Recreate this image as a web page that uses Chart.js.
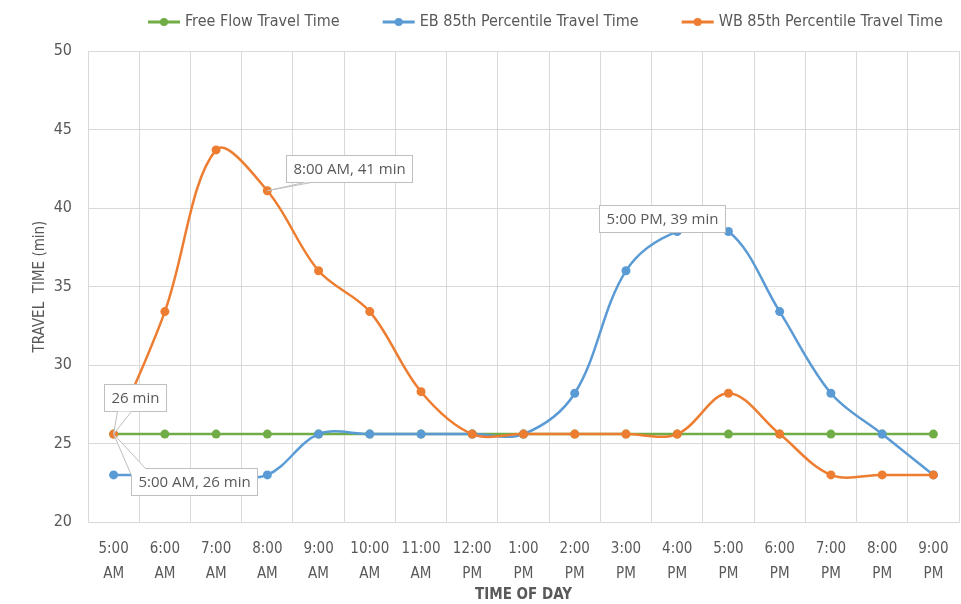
<!DOCTYPE html>
<html>
<head>
<meta charset="utf-8">
<script src="https://cdn.jsdelivr.net/npm/chart.js@4.4.1/dist/chart.umd.min.js"></script>
<style>
html, body { margin: 0; padding: 0; background: #fff; }
</style>
</head>
<body>
<canvas id="chart" width="961" height="604"></canvas>
<script>
'use strict';

const timeLabels = ['5:00 AM', '6:00 AM', '7:00 AM', '8:00 AM', '9:00 AM', '10:00 AM', '11:00 AM', '12:00 PM',
	'1:00 PM', '2:00 PM', '3:00 PM', '4:00 PM', '5:00 PM', '6:00 PM', '7:00 PM', '8:00 PM', '9:00 PM'];

const freeFlow = [25.6, 25.6, 25.6, 25.6, 25.6, 25.6, 25.6, 25.6, 25.6, 25.6, 25.6, 25.6, 25.6, 25.6, 25.6, 25.6, 25.6];
const ebTravel = [23.0, 23.0, 23.0, 23.0, 25.6, 25.6, 25.6, 25.6, 25.6, 28.2, 36.0, 38.5, 38.5, 33.4, 28.2, 25.6, 23.0];
const wbTravel = [25.6, 33.4, 43.7, 41.1, 36.0, 33.4, 28.3, 25.6, 25.6, 25.6, 25.6, 25.6, 28.2, 25.6, 23.0, 23.0, 23.0];

const yMin = 20;
const yMax = 50;
const yStep = 5;

// data callouts (dataset index, point index, text)
const callouts = [
	{ dataset: 2, index: 0, text: '26 min' },
	{ dataset: 2, index: 0, text: '5:00 AM, 26 min' },
	{ dataset: 2, index: 3, text: '8:00 AM, 41 min' },
	{ dataset: 1, index: 12, text: '5:00 PM, 39 min' }
];

// where each callout box sits relative to its point, and its leader anchors (box-relative)
const calloutStyle = [
	{ dx: 21, dy: -37, leader: [['b', 13], ['b', 27]] },
	{ dx: 80, dy: 47, leader: [['l', 7], ['t', 14]] },
	{ dx: 82, dy: -22, leader: [['b', 18], ['b', 25]] },
	{ dx: -66, dy: -13, leader: null }
];

const gray = '#595959';
const gridColor = '#d9d9d9';
const narrow = "'Liberation Sans Narrow', 'DejaVu Sans Condensed', sans-serif";
const labelFont = "15px 'Open Sans', sans-serif";

const lineLegend = {
	id: 'lineLegend',
	afterDraw(chart) {
		const ctx = chart.ctx;
		ctx.save();
		ctx.font = '16px ' + narrow;
		ctx.textBaseline = 'middle';
		ctx.textAlign = 'left';
		let x = 148;
		const y = 22;
		chart.data.datasets.forEach(function (ds) {
			ctx.strokeStyle = ds.borderColor;
			ctx.lineWidth = 3;
			ctx.beginPath();
			ctx.moveTo(x, y);
			ctx.lineTo(x + 32, y);
			ctx.stroke();
			ctx.fillStyle = ds.borderColor;
			ctx.beginPath();
			ctx.arc(x + 16, y, 4, 0, Math.PI * 2);
			ctx.fill();
			ctx.fillStyle = gray;
			ctx.fillText(ds.label, x + 37, y);
			x += 37 + ctx.measureText(ds.label).width + 43;
		});
		ctx.restore();
	}
};

function anchorPoint(a, bx, by, w, h) {
	if (a[0] === 'b') return [bx + a[1], by + h];
	if (a[0] === 't') return [bx + a[1], by];
	if (a[0] === 'l') return [bx, by + a[1]];
	return [bx + w, by + a[1]];
}

const calloutPlugin = {
	id: 'callouts',
	afterDatasetsDraw(chart) {
		const ctx = chart.ctx;
		ctx.save();
		ctx.font = labelFont;
		callouts.forEach(function (c, i) {
			const st = calloutStyle[i];
			const pt = chart.getDatasetMeta(c.dataset).data[c.index];
			const w = Math.round(ctx.measureText(c.text).width + 14);
			const h = 27;
			const cx = pt.x + st.dx;
			const cy = pt.y + st.dy;
			const bx = Math.round(cx - w / 2) + 0.5;
			const by = Math.round(cy - h / 2) + 0.5;

			ctx.fillStyle = '#fff';
			ctx.fillRect(bx, by, w, h);
			ctx.strokeStyle = '#bfbfbf';
			ctx.lineWidth = 1;
			ctx.strokeRect(bx, by, w, h);

			if (st.leader) {
				const a1 = anchorPoint(st.leader[0], bx, by, w, h);
				const a2 = anchorPoint(st.leader[1], bx, by, w, h);
				ctx.fillStyle = '#fff';
				ctx.beginPath();
				ctx.moveTo(pt.x, pt.y);
				ctx.lineTo(a1[0], a1[1]);
				ctx.lineTo(a2[0], a2[1]);
				ctx.closePath();
				ctx.fill();
				ctx.beginPath();
				ctx.moveTo(a1[0], a1[1]);
				ctx.lineTo(pt.x, pt.y);
				ctx.lineTo(a2[0], a2[1]);
				ctx.stroke();
			}

			ctx.fillStyle = gray;
			ctx.textAlign = 'center';
			ctx.textBaseline = 'middle';
			ctx.fillText(c.text, bx + w / 2, by + h / 2 + 1);
		});
		ctx.restore();
	}
};

function series(label, data, color, tension, order) {
	return {
		label: label,
		data: data,
		borderColor: color,
		backgroundColor: color,
		borderWidth: 2.5,
		pointRadius: 4.5,
		pointBorderWidth: 0,
		pointBackgroundColor: color,
		tension: tension,
		order: order,
		fill: false
	};
}

const chart = new Chart(document.getElementById('chart'), {
	type: 'line',
	data: {
		labels: timeLabels,
		datasets: [
			series('Free Flow Travel Time', freeFlow, '#70ad47', 0, 3),
			series('EB 85th Percentile Travel Time', ebTravel, '#5b9bd5', 0.35, 2),
			series('WB 85th Percentile Travel Time', wbTravel, '#ed7d31', 0.35, 1)
		]
	},
	options: {
		responsive: false,
		animation: false,
		devicePixelRatio: 1,
		layout: {
			autoPadding: false,
			padding: { top: 51, left: 0, right: 2, bottom: 0 }
		},
		plugins: {
			legend: { display: false },
			tooltip: { enabled: false }
		},
		scales: {
			x: {
				type: 'category',
				offset: true,
				grid: { offset: true, color: gridColor, drawTicks: false },
				border: { color: gridColor },
				ticks: {
					color: gray,
					font: { family: narrow, size: 15, lineHeight: 1.65 },
					padding: 15,
					maxRotation: 0,
					autoSkip: false,
					callback: function (value) {
						return this.getLabelForValue(value).split(' ');
					}
				},
				title: {
					display: true,
					text: 'TIME OF DAY',
					color: gray,
					font: { family: narrow, size: 15, weight: 'bold' },
					padding: { top: 0, bottom: 0 }
				},
				afterFit: function (scale) {
					scale.height = 82;
					scale.paddingLeft = 0;
					scale.paddingRight = 0;
				}
			},
			y: {
				min: yMin,
				max: yMax,
				grid: { color: gridColor, drawTicks: false },
				border: { color: gridColor },
				ticks: {
					stepSize: yStep,
					color: gray,
					font: { family: narrow, size: 16 },
					padding: 16
				},
				title: {
					display: true,
					text: 'TRAVEL  TIME (min)',
					color: gray,
					font: { family: narrow, size: 15 },
					padding: { top: 31, bottom: 0 }
				},
				afterFit: function (scale) {
					scale.width = 88;
				}
			}
		}
	},
	plugins: [lineLegend, calloutPlugin]
});
</script>
</body>
</html>
